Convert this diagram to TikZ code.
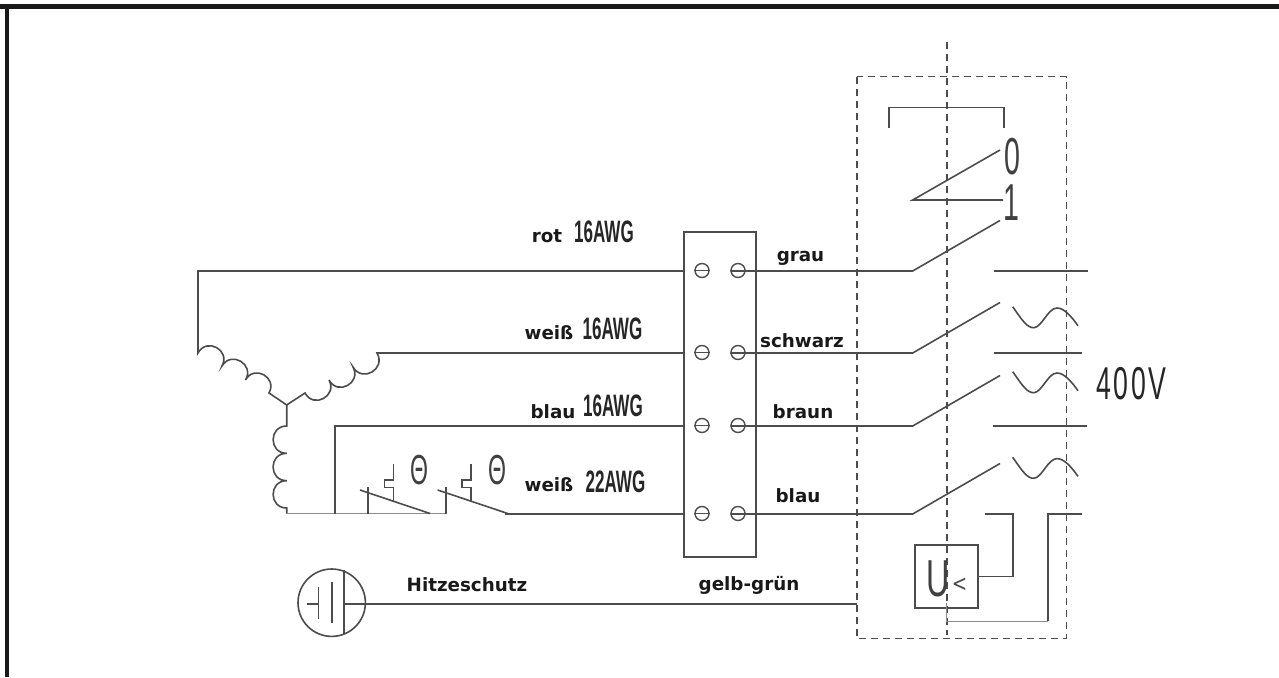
\documentclass[tikz,border=0pt]{standalone}
\usepackage{graphicx}
\usepackage{fontspec}
\setmainfont{DejaVu Sans}
\newfontfamily\narrowfont{Liberation Sans}
\usetikzlibrary{positioning,calc}
\definecolor{linegray}{gray}{0.3}
\tikzstyle{wire} = [linegray, line width=1.6pt]
\tikzstyle{thinwire} = [black!45, line width=1pt]
\tikzstyle{dashwire} = [linegray, line width=1.5pt, dash pattern=on 7pt off 5pt]
\tikzstyle{terminal} = [circle, draw=linegray, line width=1.4pt, minimum size=14pt, inner sep=0pt]
\tikzstyle{colorlabel} = [font=\fontsize{18.3}{20}\selectfont\bfseries, text=black!90, inner sep=0pt]
\tikzstyle{gauge} = [font=\narrowfont\fontsize{31}{32}\selectfont\bfseries, text=black!85, inner sep=0pt]
\tikzstyle{symbol} = [font=\narrowfont\fontsize{52}{54}\selectfont, text=black!75, inner sep=0pt]
\newcommand{\slim}[1]{\scalebox{0.55}[1]{#1}}

\begin{document}
\begin{tikzpicture}[x=1pt, y=-1pt]
    \useasboundingbox (0,0) rectangle (1279,677);
    % frame
    \fill[black!90] (0,4) rectangle (1279,9);
    \fill[black!90] (5,4) rectangle (9,677);

    % terminal block
    \node[wire, draw, minimum width=72pt, minimum height=325pt, inner sep=0pt] (block) at (720,394.5) {};
    \foreach \n/\y in {1/271, 2/353, 3/426, 4/514} {
        \node[terminal] (tl\n) at (702,\y-0.5) {};
        \node[terminal] (tr\n) at (738,\y-0.5) {};
        \coordinate (wl\n) at (684,\y);
        \coordinate (sw\n) at (912.7,\y);
        \coordinate (ct\n) at (1000,\y-50.5);
        \draw[wire] (tl\n.west) -- (tl\n.east);
        \draw[wire] (tr\n.west |- wl\n) -- (sw\n) -- (ct\n);
    }

    % motor windings
    \coordinate (star) at (286.7,405);
    \coordinate (a0) at (198,353);
    \coordinate (a1) at (222,366);
    \coordinate (a2) at (245.5,380);
    \coordinate (a3) at (269,393);
    \coordinate (b0) at (305,393);
    \coordinate (b1) at (329,380);
    \coordinate (b2) at (353,367);
    \coordinate (b3) at (377,353);
    \coordinate (c0) at (286.7,426);
    \coordinate (c1) at (286.7,453.3);
    \coordinate (c2) at (286.7,480.7);
    \coordinate (c3) at (286.7,508);
    \coordinate (c4) at (286.7,513.5);
    \draw[wire] (wl1) -- (198,271) -- (a0)
        to[bend left=90, looseness=1.7] (a1)
        to[bend left=90, looseness=1.7] (a2)
        to[bend left=90, looseness=1.7] (a3) -- (star) -- (b0)
        to[bend right=90, looseness=1.7] (b1)
        to[bend right=90, looseness=1.7] (b2)
        to[bend right=90, looseness=1.7] (b3) -- (wl2);
    \draw[wire] (star) -- (c0)
        to[bend right=90, looseness=1.7] (c1)
        to[bend right=90, looseness=1.7] (c2)
        to[bend right=90, looseness=1.7] (c3) -- (c4);

    % thermal contacts
    \coordinate (p1) at (368,513.5);
    \coordinate (p2) at (445.7,513.5);
    \coordinate (p3) at (505,514);
    \draw[thinwire] (c4) -- (p2);
    \draw[wire] (wl3) -- (335,426) -- (335,513.5);
    \draw[wire] (p3) -- (wl4);
    \foreach \n/\dx in {1/0, 2/77.7} {
        \draw[wire] (p\n) -- ++(0,-27);
        \draw[wire] (360+\dx,490) -- (430+\dx,513.5);
        \draw[wire] (393.3+\dx,464.3) -- (393.3+\dx,480) -- (384.3+\dx,480) -- (384.3+\dx,487.3) -- (393.3+\dx,487.3) -- (393.3+\dx,501.7);
        \node[symbol, font=\narrowfont\fontsize{42}{44}\selectfont] (theta\n) at (419.3+\dx,470) {\slim{Θ}};
    }

    % switch unit
    \coordinate (boxnw) at (857,76.7);
    \coordinate (boxse) at (1066.3,638.3);
    \draw[dashwire] (boxnw) rectangle (boxse);
    \draw[dashwire] (947,42) -- (947,635);
    \draw[wire] (889,128) -- (889,107.3) -- (1004,107.3) -- (1004,128);
    \coordinate (lever) at (912.7,200);
    \draw[wire] (1000,150) -- (lever) -- (1003,200);
    \node[symbol] (zero) at (1012,157) {\slim{0}};
    \node[symbol] (one) at (1011,202.5) {\slim{1}};
    \draw[wire] (994,271) -- (1088,271);
    \draw[wire] (994,353) -- (1082,353);
    \draw[wire] (993,426) -- (1087,426);
    \foreach \dy in {0, 65, 150.6} {
        \draw[wire] (1012.7,306.7+\dy) .. controls (1022,320+\dy) and (1027,328+\dy) .. (1034,327.7+\dy)
            .. controls (1042,327+\dy) and (1048,308+\dy) .. (1057,308+\dy)
            .. controls (1064,308+\dy) and (1071,316+\dy) .. (1078,325.7+\dy);
    }

    % undervoltage release
    \node[wire, draw, minimum size=63pt, inner sep=0pt] (ubox) at (946.5,576.5) {};
    \node[symbol] (ulabel) at (938,579) {\scalebox{0.62}[1]{U}};
    \node[font=\fontsize{23}{23}\selectfont, text=linegray, inner sep=0pt] (ult) at (959.5,585) {\scalebox{0.8}[1]{<}};
    \draw[wire] (985,514) -- (1013,514) -- (1013,576.5) -- (ubox.east);
    \draw[wire] (1082,514) -- (1048,514) -- (1048,621);
    \draw[thinwire] (1048,621) -- (946.7,621) -- (946.7,603);

    % heat protection
    \node[circle, wire, draw, minimum size=67.4pt, inner sep=0pt] (hs) at (331.7,602.7) {};
    \coordinate (hsbar) at (344,604);
    \coordinate (hsend) at (857,604);
    \draw[wire] (344,570) -- (344,634);
    \draw[wire] (332,581.7) -- (332,622.7);
    \draw[wire] (318.3,587) -- (318.3,618.7);
    \draw[wire] (307,604) -- (318.3,604);
    \draw[wire] (hsbar) -- (hsend);

    % labels
    \node[colorlabel] (lrot) at (547,236) {rot};
    \node[gauge] (grot) at (604,232) {\slim{16AWG}};
    \node[colorlabel] (lweiss) at (549,333) {weiß};
    \node[gauge] (gweiss) at (612.5,329) {\slim{16AWG}};
    \node[colorlabel] (lblau) at (553,412) {blau};
    \node[gauge] (gblau) at (613,406) {\slim{16AWG}};
    \node[colorlabel] (lweissb) at (549,485) {weiß};
    \node[gauge] (gweissb) at (615.5,482) {\slim{22AWG}};
    \node[colorlabel] (lgrau) at (800.5,258) {grau};
    \node[colorlabel] (lschwarz) at (802,341) {schwarz};
    \node[colorlabel] (lbraun) at (803,412) {braun};
    \node[colorlabel] (lblaur) at (798,496) {blau};
    \node[colorlabel] (lhitze) at (467,584.5) {Hitzeschutz};
    \node[colorlabel] (lgelb) at (749,585) {gelb-grün};
    \node[symbol, font=\narrowfont\fontsize{46}{48}\selectfont, text=black!85] (volt) at (1131.5,383.5) {\scalebox{0.58}[1]{4\kern0.1em 0\kern0.1em 0\kern0.1em V}};
\end{tikzpicture}
\end{document}
